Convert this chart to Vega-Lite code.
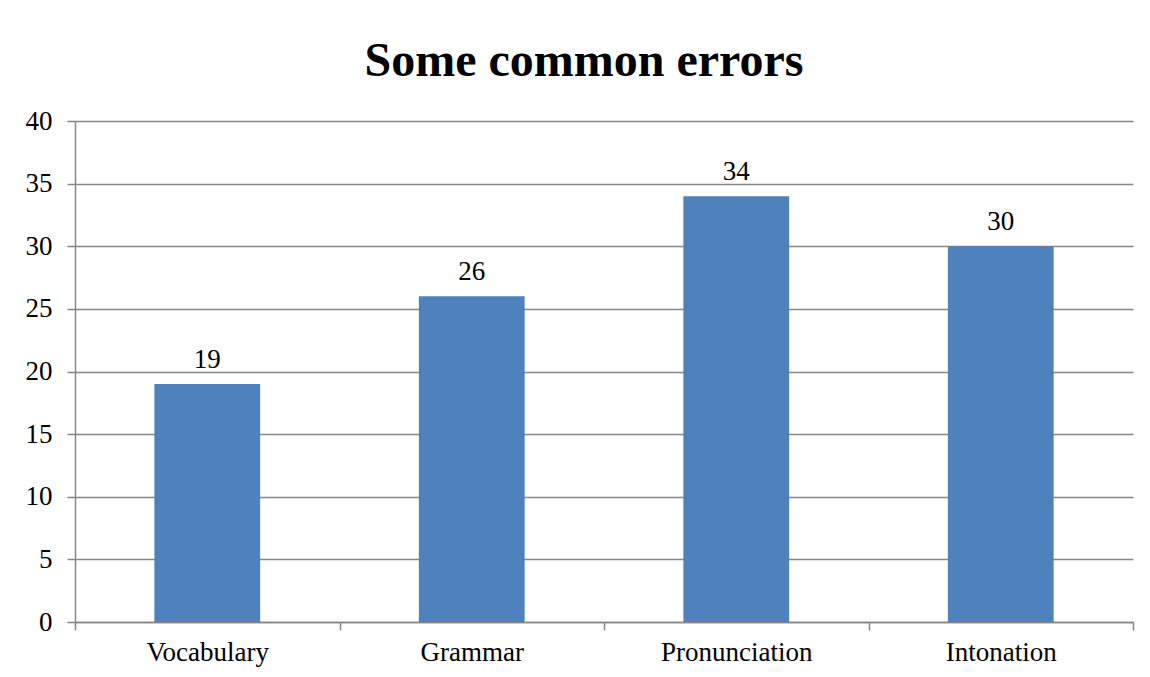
{
  "$schema": "https://vega.github.io/schema/vega-lite/v6.json",
  "width": 1058,
  "height": 501,
  "autosize": "none",
  "padding": {"left": 75, "top": 121, "right": 17, "bottom": 55},
  "background": "white",
  "config": {
    "font": "Times New Roman",
    "view": {"stroke": null}
  },
  "title": {
    "text": "Some common errors",
    "font": "Times New Roman",
    "fontSize": 48,
    "fontWeight": "bold",
    "color": "black",
    "anchor": "middle",
    "dx": -20,
    "offset": 21
  },
  "data": {
    "values": [
      {"category": "Vocabulary", "errors": 19},
      {"category": "Grammar", "errors": 26},
      {"category": "Pronunciation", "errors": 34},
      {"category": "Intonation", "errors": 30}
    ]
  },
  "encoding": {
    "x": {
      "field": "category",
      "type": "nominal",
      "sort": null,
      "scale": {"paddingInner": 0, "paddingOuter": 0},
      "axis": {
        "title": null,
        "labelAngle": 0,
        "labelFont": "Times New Roman",
        "labelFontSize": 27,
        "labelColor": "black",
        "labelBaseline": "alphabetic",
        "labelPadding": 30,
        "tickBand": "extent",
        "tickSize": 8,
        "tickColor": "#868686",
        "tickWidth": 1.5,
        "domainColor": "#868686",
        "domainWidth": 1.5,
        "grid": false
      }
    },
    "y": {
      "field": "errors",
      "type": "quantitative",
      "scale": {"domain": [0, 40], "nice": false},
      "axis": {
        "title": null,
        "values": [0, 5, 10, 15, 20, 25, 30, 35, 40],
        "labelFont": "Times New Roman",
        "labelFontSize": 27,
        "labelColor": "black",
        "labelPadding": 15,
        "tickSize": 8,
        "tickColor": "#868686",
        "tickWidth": 1.5,
        "domainColor": "#868686",
        "domainWidth": 1.5,
        "grid": true,
        "gridColor": "#868686",
        "gridWidth": 1.5
      }
    }
  },
  "layer": [
    {
      "mark": {"type": "bar", "color": "#4F81BD", "width": {"band": 0.4}}
    },
    {
      "mark": {
        "type": "text",
        "baseline": "alphabetic",
        "dy": -16,
        "fontSize": 27,
        "font": "Times New Roman",
        "color": "black"
      },
      "encoding": {"text": {"field": "errors", "type": "quantitative"}}
    }
  ]
}
